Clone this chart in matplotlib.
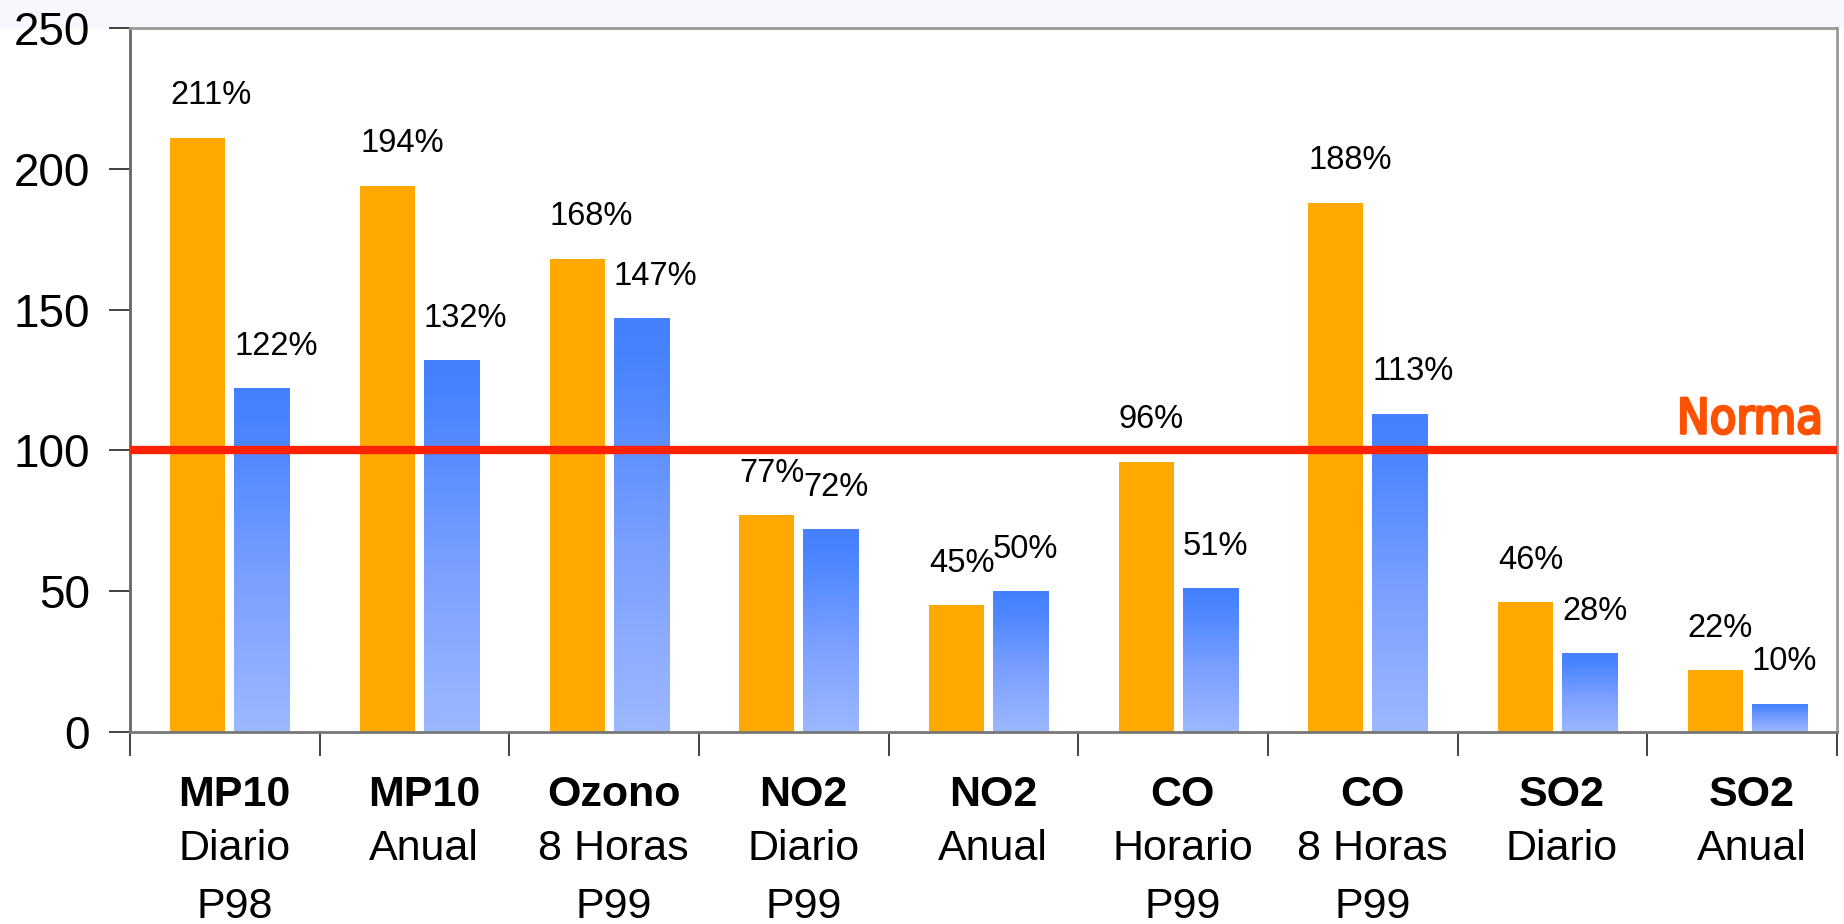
import numpy as np
import matplotlib
matplotlib.use("Agg")
import matplotlib.pyplot as plt
from matplotlib.colors import LinearSegmentedColormap
from matplotlib.patches import Rectangle
import matplotlib.patheffects as pe
import matplotlib.transforms as mtransforms

# datos
titles = ["MP10", "MP10", "Ozono", "NO2", "NO2", "CO", "CO", "SO2", "SO2"]
subtitles = [["Diario", "P98"], ["Anual"], ["8 Horas", "P99"], ["Diario", "P99"],
             ["Anual"], ["Horario", "P99"], ["8 Horas", "P99"], ["Diario"], ["Anual"]]
orange_vals = [211, 194, 168, 77, 45, 96, 188, 46, 22]
blue_vals = [122, 132, 147, 72, 50, 51, 113, 28, 10]
norma = 100

plt.rcParams['font.family'] = ['Liberation Sans', 'DejaVu Sans']

fig = plt.figure(figsize=(18.44, 9.24), dpi=100)
# franja clara de fondo arriba (fondo de la diapositiva)
fig.patches.append(Rectangle((0, 1 - 28/924), 1, 28/924, transform=fig.transFigure,
                             color="#F6F8FD", zorder=-1))
ax = fig.add_axes([130/1844, 1-732/924, 1707/1844, 704/924])

x = np.arange(len(titles))
w = 0.29
ob = ax.bar(x - 0.142, orange_vals, w, color="#FFA800", zorder=2)
bb = ax.bar(x + 0.195, blue_vals, w, color="#6A98FF", zorder=2)

# degradado azul en cada barra
cmap = LinearSegmentedColormap.from_list(
    "az", [(0, "#9CB8FF"), (0.45, "#7A9FFF"), (0.85, "#4C86FF"), (1, "#4480FF")])
grad = np.linspace(0, 1, 256).reshape(-1, 1)
for p in bb:
    x0, y0 = p.get_x(), p.get_y()
    im = ax.imshow(grad, cmap=cmap, aspect="auto", origin="lower",
                   extent=(x0, x0 + p.get_width(), y0, y0 + p.get_height()),
                   zorder=2.1)
    im.set_clip_path(p)

# etiquetas de porcentaje
for bars, vals in ((ob, orange_vals), (bb, blue_vals)):
    for p, v in zip(bars, vals):
        ax.annotate(f"{v}%", (p.get_x(), v), xytext=(0, 42),
                    textcoords="offset pixels", ha="left", va="center",
                    fontsize=23.5, zorder=4)

# linea de la norma
ax.axhline(norma, color="#FF2200", lw=6, zorder=3)
ax.annotate("Norma", (1, norma), xycoords=("axes fraction", "data"),
            xytext=(-14, 17), textcoords="offset pixels", ha="right",
            va="baseline", color="#FF5200", fontsize=35,
            family="DejaVu Sans", fontstretch="condensed",
            path_effects=[pe.withStroke(linewidth=2, foreground="#FF5200")])

ax.set_xlim(-0.5, len(titles) - 0.5)
ax.set_ylim(0, 250)
ax.set_yticks(np.arange(0, 251, 50))
ax.tick_params(axis="y", labelsize=33, length=15, width=1.2, pad=14, color="#222222")
ax.set_xticks(np.arange(len(titles) + 1) - 0.5)
ax.set_xticklabels([])
ax.tick_params(axis="x", length=17, width=1.2, color="#222222")

for s in ax.spines.values():
    s.set_linewidth(2)
    s.set_color("#999999")
ax.spines["left"].set_color("#666666")
ax.spines["bottom"].set_color("#777777")

# rotulos de categoria
tr = mtransforms.blended_transform_factory(ax.transData, ax.transAxes)
offs = [-63, -117, -175]
for i, (t, subs) in enumerate(zip(titles, subtitles)):
    xc = i + 0.05
    ax.annotate(t, (xc, 0), xycoords=tr, xytext=(0, offs[0]), textcoords="offset pixels",
                ha="center", va="center", fontsize=31, fontweight="bold")
    for j, s in enumerate(subs):
        ax.annotate(s, (xc, 0), xycoords=tr, xytext=(0, offs[j + 1]),
                    textcoords="offset pixels", ha="center", va="center", fontsize=31)

fig.savefig("out.png", dpi=100)
